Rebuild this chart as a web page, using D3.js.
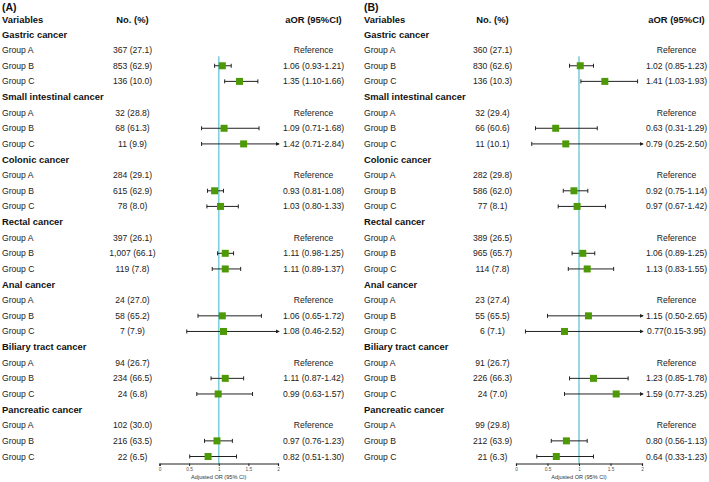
<!DOCTYPE html>
<html><head><meta charset="utf-8">
<script src="https://cdn.jsdelivr.net/npm/d3@7"></script>
<style>
html,body{margin:0;padding:0;background:#fff;}
svg{display:block;font-family:Arial,"Liberation Sans",sans-serif;}
</style></head>
<body><svg id="c" width="709" height="482"></svg>
<script>
const categories = ["Gastric cancer","Small intestinal cancer","Colonic cancer","Rectal cancer","Anal cancer","Biliary tract cancer","Pancreatic cancer"];
const groups = ["Group A","Group B","Group C"];
const ticks = [0, 0.5, 1, 1.5, 2];

// Panel A
const noA = [
 ["367 (27.1)","853 (62.9)","136 (10.0)"],
 ["32 (28.8)","68 (61.3)","11 (9.9)"],
 ["284 (29.1)","615 (62.9)","78 (8.0)"],
 ["397 (26.1)","1,007 (66.1)","119 (7.8)"],
 ["24 (27.0)","58 (65.2)","7 (7.9)"],
 ["94 (26.7)","234 (66.5)","24 (6.8)"],
 ["102 (30.0)","216 (63.5)","22 (6.5)"]
];
const orA  = [[1.06,1.35],[1.09,1.42],[0.93,1.03],[1.11,1.11],[1.06,1.08],[1.11,0.99],[0.97,0.82]];
const lowA = [[0.93,1.10],[0.71,0.71],[0.81,0.80],[0.98,0.89],[0.65,0.46],[0.87,0.63],[0.76,0.51]];
const upA  = [[1.21,1.66],[1.68,2.84],[1.08,1.33],[1.25,1.37],[1.72,2.52],[1.42,1.57],[1.23,1.30]];
const txtA = [
 ["1.06 (0.93-1.21)","1.35 (1.10-1.66)"],
 ["1.09 (0.71-1.68)","1.42 (0.71-2.84)"],
 ["0.93 (0.81-1.08)","1.03 (0.80-1.33)"],
 ["1.11 (0.98-1.25)","1.11 (0.89-1.37)"],
 ["1.06 (0.65-1.72)","1.08 (0.46-2.52)"],
 ["1.11 (0.87-1.42)","0.99 (0.63-1.57)"],
 ["0.97 (0.76-1.23)","0.82 (0.51-1.30)"]
];

// Panel B
const noB = [
 ["360 (27.1)","830 (62.6)","136 (10.3)"],
 ["32 (29.4)","66 (60.6)","11 (10.1)"],
 ["282 (29.8)","586 (62.0)","77 (8.1)"],
 ["389 (26.5)","965 (65.7)","114 (7.8)"],
 ["23 (27.4)","55 (65.5)","6 (7.1)"],
 ["91 (26.7)","226 (66.3)","24 (7.0)"],
 ["99 (29.8)","212 (63.9)","21 (6.3)"]
];
const orB  = [[1.02,1.41],[0.63,0.79],[0.92,0.97],[1.06,1.13],[1.15,0.77],[1.23,1.59],[0.80,0.64]];
const lowB = [[0.85,1.03],[0.31,0.25],[0.75,0.67],[0.89,0.83],[0.50,0.15],[0.85,0.77],[0.56,0.33]];
const upB  = [[1.23,1.93],[1.29,2.50],[1.14,1.42],[1.25,1.55],[2.65,3.95],[1.78,3.25],[1.13,1.23]];
const txtB = [
 ["1.02 (0.85-1.23)","1.41 (1.03-1.93)"],
 ["0.63 (0.31-1.29)","0.79 (0.25-2.50)"],
 ["0.92 (0.75-1.14)","0.97 (0.67-1.42)"],
 ["1.06 (0.89-1.25)","1.13 (0.83-1.55)"],
 ["1.15 (0.50-2.65)","0.77(0.15-3.95)"],
 ["1.23 (0.85-1.78)","1.59 (0.77-3.25)"],
 ["0.80 (0.56-1.13)","0.64 (0.33-1.23)"]
];

const svg = d3.select("#c");
const defs = svg.append("defs");
defs.append("marker").attr("id","arr").attr("viewBox","0 0 10 10")
  .attr("refX",8).attr("refY",5).attr("markerWidth",4).attr("markerHeight",4)
  .attr("orient","auto").append("path").attr("d","M0,0L10,5L0,10Z").attr("fill","#222");

const rowY = d3.scaleLinear().domain([0,27]).range([34.5,456.5]);
const GREEN = "#4e9a06";

function panel(cfg){
  const g = svg.append("g");
  const x = d3.scaleLinear().domain([0,2]).range(cfg.range);
  const textColor = "#222";
  g.append("text").attr("x",cfg.lx).attr("y",7).attr("dy","0.35em")
   .attr("font-size",10.5).attr("font-weight","bold").attr("fill","#111").text(cfg.label);
  g.append("text").attr("x",cfg.lx).attr("y",19.5).attr("dy","0.35em")
   .attr("font-size",9.4).attr("font-weight","bold").attr("fill","#111").text("Variables");
  g.append("text").attr("x",cfg.noX).attr("y",19.5).attr("dy","0.35em").attr("text-anchor","middle")
   .attr("font-size",9.4).attr("font-weight","bold").attr("fill","#111").text("No. (%)");
  g.append("text").attr("x",cfg.aorX).attr("y",19.5).attr("dy","0.35em").attr("text-anchor","middle")
   .attr("font-size",9.4).attr("font-weight","bold").attr("fill","#111").text("aOR (95%CI)");

  // reference line
  const axisY = 463.5;
  g.append("line").attr("x1",x(1)).attr("x2",x(1)).attr("y1",rowY(1)+6).attr("y2",axisY)
   .attr("stroke","#7fd0da").attr("stroke-width",1.6);

  categories.forEach((cat,ci)=>{
    const base = ci*4;
    g.append("text").attr("x",cfg.lx).attr("y",rowY(base)).attr("dy","0.35em")
     .attr("font-size",9.4).attr("font-weight","bold").attr("fill","#111").text(cat);
    groups.forEach((gr,gi)=>{
      const y = rowY(base+1+gi);
      g.append("text").attr("x",cfg.lx).attr("y",y).attr("dy","0.35em")
       .attr("font-size",8.6).attr("fill",textColor).text(gr);
      g.append("text").attr("x",cfg.noX).attr("y",y).attr("dy","0.35em").attr("text-anchor","middle")
       .attr("font-size",8.6).attr("fill",textColor).text(cfg.no[ci][gi]);
      if(gi===0){
        g.append("text").attr("x",cfg.aorX).attr("y",y).attr("dy","0.35em").attr("text-anchor","middle")
         .attr("font-size",8.6).attr("fill",textColor).text("Reference");
      } else {
        const k = gi-1;
        const lo = cfg.low[ci][k], up = cfg.up[ci][k], est = cfg.or[ci][k];
        const clipped = up > 2;
        const x1 = x(lo), x2 = clipped ? x(2)+1 : x(up);
        const ln = g.append("line").attr("x1",x1).attr("x2",x2).attr("y1",y).attr("y2",y)
          .attr("stroke","#222").attr("stroke-width",1);
        if(clipped) ln.attr("marker-end","url(#arr)");
        g.append("line").attr("x1",x1).attr("x2",x1).attr("y1",y-2).attr("y2",y+2).attr("stroke","#222").attr("stroke-width",1);
        if(!clipped) g.append("line").attr("x1",x2).attr("x2",x2).attr("y1",y-2).attr("y2",y+2).attr("stroke","#222").attr("stroke-width",1);
        g.append("rect").attr("x",x(est)-3.5).attr("y",y-3.5).attr("width",7).attr("height",7).attr("fill",GREEN);
        g.append("text").attr("x",cfg.aorX).attr("y",y).attr("dy","0.35em").attr("text-anchor","middle")
         .attr("font-size",8.6).attr("fill",textColor).text(cfg.txt[ci][k]);
      }
    });
  });

  // axis
  const ax = g.append("g").attr("transform",`translate(0,${axisY})`)
    .call(d3.axisBottom(x).tickValues(ticks).tickSize(2.5).tickFormat(d3.format("")));
  ax.select(".domain").attr("stroke","#222").attr("stroke-width",1.2);
  ax.selectAll(".tick line").attr("stroke","#222");
  ax.selectAll(".tick text").attr("font-size",4.8).attr("fill","#555").attr("dy","0.5em")
    .attr("font-family",'Arial,"Liberation Sans",sans-serif');
  g.append("text").attr("x",x(1)).attr("y",477.5).attr("dy","0.35em").attr("text-anchor","middle")
   .attr("font-size",5.6).attr("fill","#333").text("Adjusted OR (95% CI)");
}

panel({label:"(A)", lx:2, range:[159.5,278], noX:132.5, aorX:313.5, no:noA, or:orA, low:lowA, up:upA, txt:txtA});
panel({label:"(B)", lx:364, range:[516,642], noX:492.5, aorX:676.5, no:noB, or:orB, low:lowB, up:upB, txt:txtB});
</script></body></html>
